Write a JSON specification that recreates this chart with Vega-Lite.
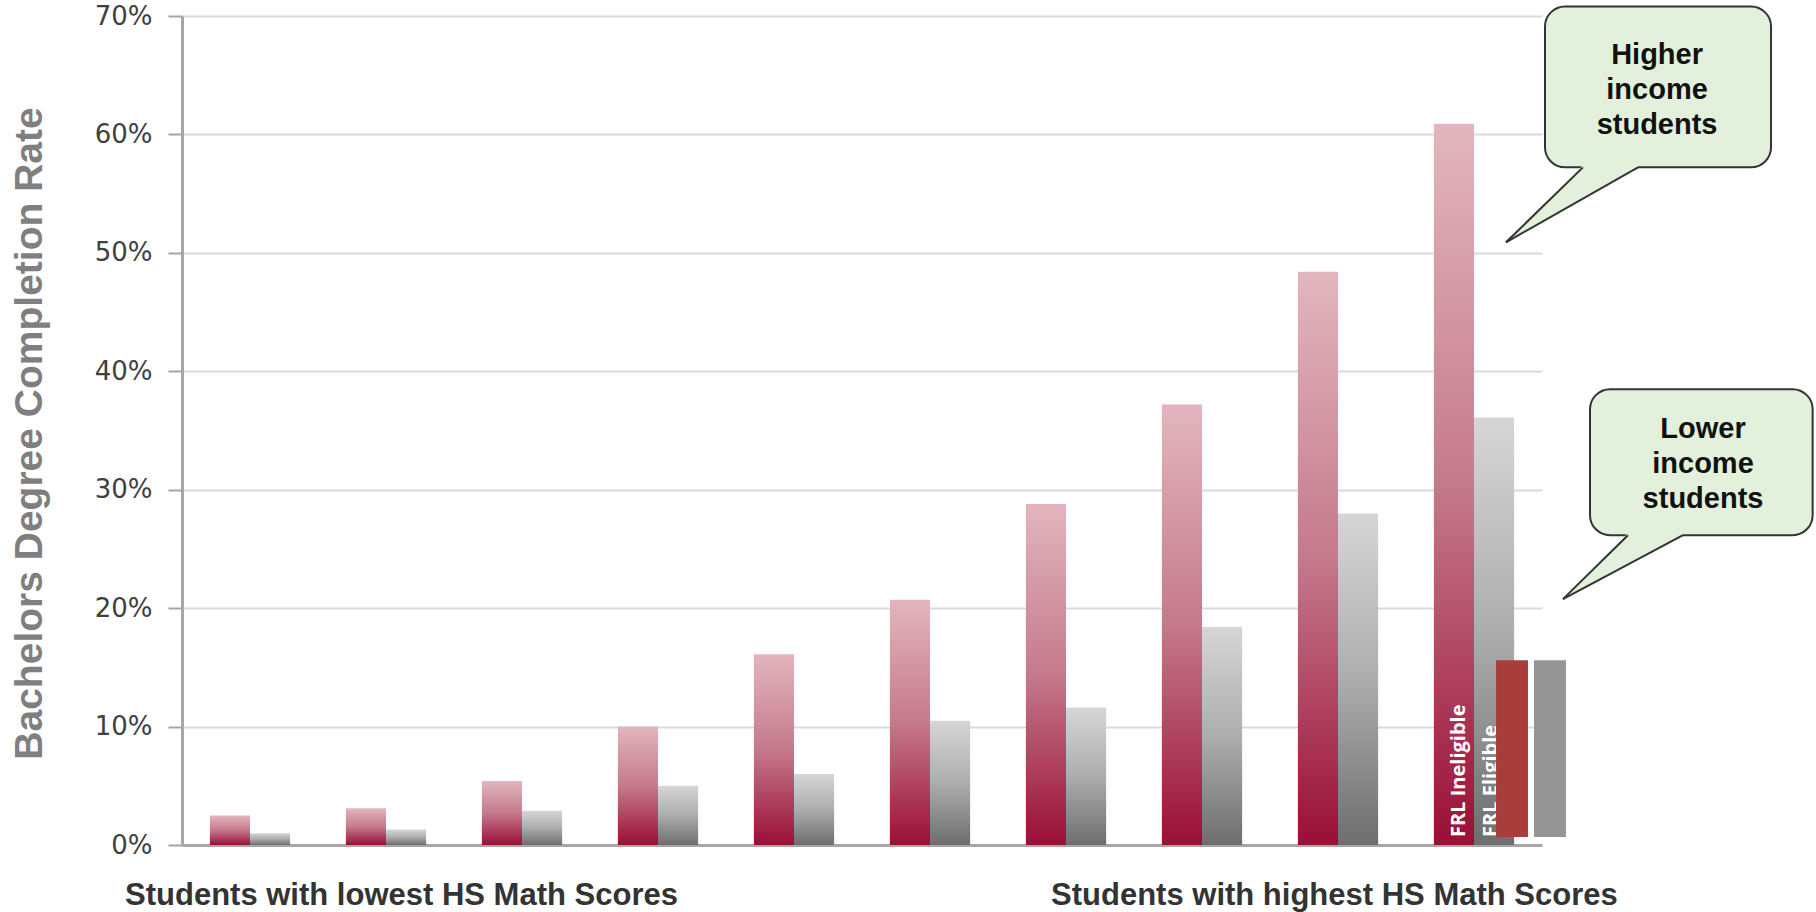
{
  "$schema": "https://vega.github.io/schema/vega-lite/v6.json",
  "width": 1360,
  "height": 829,
  "autosize": {"type": "none"},
  "padding": {"left": 182, "top": 16, "right": 274, "bottom": 67},
  "background": "white",
  "config": {"view": {"stroke": null}},
  "datasets": {
    "rates": [
      {"group": 1, "status": "Ineligible", "rate": 2.5},
      {"group": 1, "status": "Eligible", "rate": 1.0},
      {"group": 2, "status": "Ineligible", "rate": 3.1},
      {"group": 2, "status": "Eligible", "rate": 1.3},
      {"group": 3, "status": "Ineligible", "rate": 5.4},
      {"group": 3, "status": "Eligible", "rate": 2.9},
      {"group": 4, "status": "Ineligible", "rate": 10.0},
      {"group": 4, "status": "Eligible", "rate": 5.0},
      {"group": 5, "status": "Ineligible", "rate": 16.1},
      {"group": 5, "status": "Eligible", "rate": 6.0},
      {"group": 6, "status": "Ineligible", "rate": 20.7},
      {"group": 6, "status": "Eligible", "rate": 10.5},
      {"group": 7, "status": "Ineligible", "rate": 28.8},
      {"group": 7, "status": "Eligible", "rate": 11.6},
      {"group": 8, "status": "Ineligible", "rate": 37.2},
      {"group": 8, "status": "Eligible", "rate": 18.4},
      {"group": 9, "status": "Ineligible", "rate": 48.4},
      {"group": 9, "status": "Eligible", "rate": 28.0},
      {"group": 10, "status": "Ineligible", "rate": 60.9},
      {"group": 10, "status": "Eligible", "rate": 36.1}
    ],
    "barLabels": [
      {"label": "FRL Ineligible", "x": 9.39, "y": 0.68},
      {"label": "FRL Eligible", "x": 9.625, "y": 0.68}
    ],
    "swatches": [
      {"status": "Ineligible", "x": 9.662, "x2": 9.897, "y": 15.6, "y2": 0.68},
      {"status": "Eligible", "x": 9.941, "x2": 10.176, "y": 15.6, "y2": 0.68}
    ],
    "boxes": [
      {"name": "higher", "x": 10.022, "x2": 11.684, "y": 70.8, "y2": 57.22},
      {"name": "lower", "x": 10.353, "x2": 11.99, "y": 38.48, "y2": 26.16}
    ],
    "tails": [
      {"name": "higher", "x": 9.735, "y": 50.89, "y2": 50.89},
      {"name": "higher", "x": 10.301, "y": 57.4, "y2": 54.58},
      {"name": "higher", "x": 10.706, "y": 57.4, "y2": 57.22},
      {"name": "lower", "x": 10.154, "y": 20.76, "y2": 20.76},
      {"name": "lower", "x": 10.632, "y": 26.35, "y2": 23.68},
      {"name": "lower", "x": 11.037, "y": 26.35, "y2": 26.16}
    ],
    "edges": [
      {"seg": "h1", "x": 9.735, "y": 50.89},
      {"seg": "h1", "x": 10.301, "y": 57.22},
      {"seg": "h2", "x": 9.735, "y": 50.89},
      {"seg": "h2", "x": 10.706, "y": 57.22},
      {"seg": "l1", "x": 10.154, "y": 20.76},
      {"seg": "l1", "x": 10.632, "y": 26.16},
      {"seg": "l2", "x": 10.154, "y": 20.76},
      {"seg": "l2", "x": 11.037, "y": 26.16}
    ],
    "notes": [
      {"text": "Higher\nincome\nstudents", "x": 10.846, "y": 66.67},
      {"text": "Lower\nincome\nstudents", "x": 11.184, "y": 35.1}
    ],
    "captions": [
      {"text": "Students with lowest HS Math Scores", "x": -0.419, "y": -5.06},
      {"text": "Students with highest HS Math Scores", "x": 6.39, "y": -5.06}
    ]
  },
  "layer": [
    {
      "data": {"name": "rates"},
      "encoding": {
        "x": {
          "field": "group",
          "type": "ordinal",
          "scale": {"paddingInner": 0.41, "paddingOuter": 0.205},
          "axis": {"labels": false, "ticks": false, "title": null, "grid": false, "domainColor": "#a6a6a6", "domainWidth": 3}
        },
        "xOffset": {"field": "status", "type": "nominal", "scale": {"domain": ["Ineligible", "Eligible"]}},
        "y": {
          "field": "rate",
          "type": "quantitative",
          "scale": {"domain": [0, 70], "nice": false},
          "axis": {
            "values": [0, 10, 20, 30, 40, 50, 60, 70],
            "labelExpr": "datum.value + '%'",
            "grid": true,
            "gridColor": "#dadada",
            "gridWidth": 2,
            "tickSize": 14,
            "tickColor": "#a6a6a6",
            "tickWidth": 2,
            "domainColor": "#a6a6a6",
            "domainWidth": 3,
            "labelFont": "DejaVu Sans",
            "labelFontSize": 26,
            "labelColor": "#404040",
            "labelPadding": 16,
            "title": "Bachelors Degree Completion Rate",
            "titleFont": "Liberation Sans",
            "titleFontWeight": "bold",
            "titleFontSize": 39,
            "titleColor": "#7f7f7f",
            "titleAngle": 270,
            "titleX": -153,
            "titleY": 417,
            "titleAlign": "center",
            "titleBaseline": "middle"
          }
        }
      },
      "layer": [
        {
          "transform": [{"filter": "datum.status == 'Ineligible'"}],
          "mark": {
            "type": "bar",
            "color": {
              "gradient": "linear", "x1": 0, "y1": 0, "x2": 0, "y2": 1,
              "stops": [
                {"offset": 0, "color": "#e2b6bf"},
                {"offset": 0.5, "color": "#c5798c"},
                {"offset": 1, "color": "#9a0f36"}
              ]
            }
          }
        },
        {
          "transform": [{"filter": "datum.status == 'Eligible'"}],
          "mark": {
            "type": "bar",
            "color": {
              "gradient": "linear", "x1": 0, "y1": 0, "x2": 0, "y2": 1,
              "stops": [
                {"offset": 0, "color": "#d6d6d6"},
                {"offset": 0.5, "color": "#adadad"},
                {"offset": 1, "color": "#6e6e6e"}
              ]
            }
          }
        }
      ]
    },
    {
      "layer": [
        {
          "data": {"name": "barLabels"},
          "mark": {"type": "text", "angle": 270, "align": "left", "baseline": "middle", "color": "white", "font": "Open Sans", "fontWeight": "bold", "fontSize": 20},
          "encoding": {
            "x": {"field": "x", "type": "quantitative", "scale": {"domain": [0, 10], "nice": false, "zero": false}, "axis": null},
            "y": {"field": "y", "type": "quantitative"},
            "text": {"field": "label"}
          }
        },
        {
          "data": {"name": "swatches"},
          "mark": {"type": "rect"},
          "encoding": {
            "x": {"field": "x", "type": "quantitative"},
            "x2": {"field": "x2"},
            "y": {"field": "y", "type": "quantitative"},
            "y2": {"field": "y2"},
            "color": {"field": "status", "type": "nominal", "scale": {"domain": ["Ineligible", "Eligible"], "range": ["#a93d3b", "#959595"]}, "legend": null}
          }
        },
        {
          "data": {"name": "boxes"},
          "mark": {"type": "rect", "fill": "#e2f0dc", "stroke": "#333333", "strokeWidth": 2, "cornerRadius": 20},
          "encoding": {
            "x": {"field": "x", "type": "quantitative"},
            "x2": {"field": "x2"},
            "y": {"field": "y", "type": "quantitative"},
            "y2": {"field": "y2"}
          }
        },
        {
          "data": {"name": "tails"},
          "mark": {"type": "area", "color": "#e2f0dc", "opacity": 1},
          "encoding": {
            "x": {"field": "x", "type": "quantitative"},
            "y": {"field": "y", "type": "quantitative"},
            "y2": {"field": "y2"},
            "detail": {"field": "name"}
          }
        },
        {
          "data": {"name": "edges"},
          "mark": {"type": "line", "color": "#333333", "strokeWidth": 2},
          "encoding": {
            "x": {"field": "x", "type": "quantitative"},
            "y": {"field": "y", "type": "quantitative"},
            "detail": {"field": "seg"}
          }
        },
        {
          "data": {"name": "notes"},
          "mark": {"type": "text", "align": "center", "baseline": "middle", "lineBreak": "\n", "lineHeight": 35, "font": "Liberation Sans", "fontWeight": "bold", "fontSize": 29, "color": "#111111"},
          "encoding": {
            "x": {"field": "x", "type": "quantitative"},
            "y": {"field": "y", "type": "quantitative"},
            "text": {"field": "text"}
          }
        },
        {
          "data": {"name": "captions"},
          "mark": {"type": "text", "align": "left", "baseline": "alphabetic", "font": "Liberation Sans", "fontWeight": "bold", "fontSize": 31, "color": "#333333"},
          "encoding": {
            "x": {"field": "x", "type": "quantitative"},
            "y": {"field": "y", "type": "quantitative"},
            "text": {"field": "text"}
          }
        }
      ]
    }
  ],
  "resolve": {"scale": {"x": "independent", "color": "independent"}, "axis": {"x": "independent"}}
}
